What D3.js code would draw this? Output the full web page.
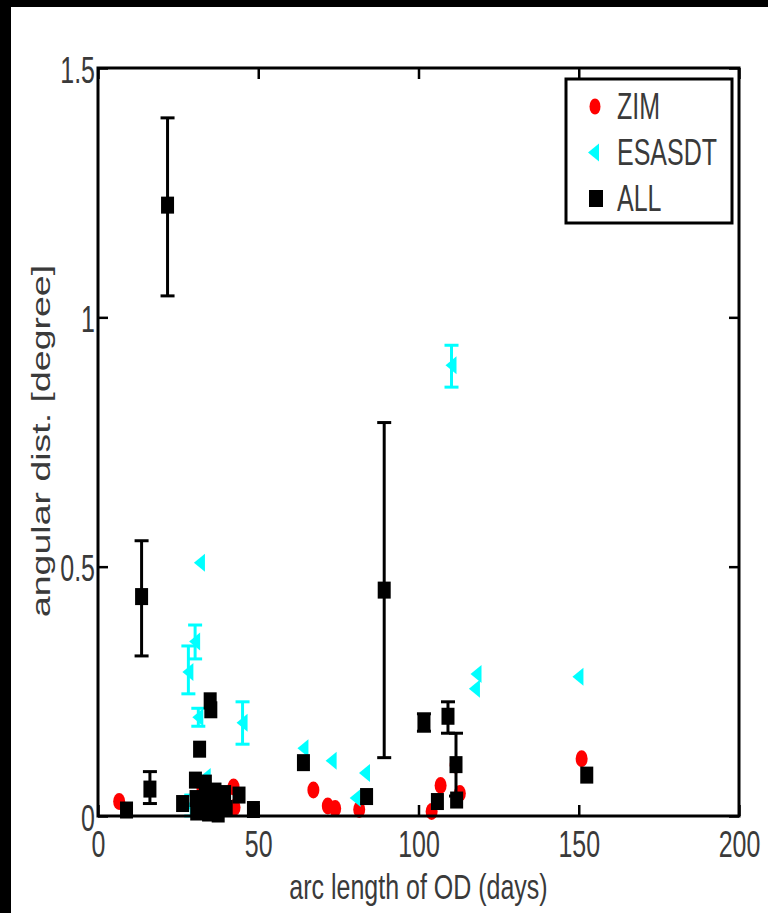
<!DOCTYPE html>
<html>
<head>
<meta charset="utf-8">
<script src="https://cdn.jsdelivr.net/npm/d3@7"></script>
<style>
  html, body { margin: 0; padding: 0; background: #fff; }
  svg { display: block; }
  text { font-family: "Liberation Sans", Arial, sans-serif; font-size: 25px; fill: #3a3a3a; }
</style>
</head>
<body>
<svg id="chart" width="768" height="913"></svg>
<script>
// ZIM (red dots)
const zimX = [6.6, 32.6, 42.3, 42.6, 67.2, 71.7, 74.0, 81.5, 104.1, 106.9, 111.6, 112.9, 150.9];
const zimY = [0.029, 0.054, 0.058, 0.017, 0.052, 0.020, 0.015, 0.013, 0.009, 0.061, 0.102, 0.045, 0.115];

// ESASDT (cyan left triangles), null = no error bar
const esaX  = [28.2, 29.1, 30.3, 31.3, 31.8, 33.6, 45.1, 64.1, 72.9, 80.4, 83.3, 110.3, 117.6, 118.1, 149.9];
const esaY  = [0.289, 0.020, 0.350, 0.198, 0.508, 0.078, 0.187, 0.136, 0.111, 0.036, 0.086, 0.904, 0.255, 0.285, 0.279];
const esaLo = [0.245, 0.000, 0.315, 0.180, null, null, 0.144, null, null, null, null, 0.860, null, null, null];
const esaHi = [0.341, 0.042, 0.383, 0.216, null, null, 0.229, null, null, null, null, 0.944, null, null, null];

// ALL (black squares)
const allX  = [8.9, 13.6, 16.2, 21.7, 26.4, 30.4, 30.6, 30.8, 31.7, 33.5, 34.0, 34.5, 35.0, 35.2, 36.5,
               37.0, 37.5, 39.5, 40.0, 44.0, 48.5, 64.1, 83.8, 89.3, 101.7, 105.9, 109.2, 111.7, 111.9, 152.5];
const allY  = [0.012, 0.440, 0.054, 1.225, 0.025, 0.072, 0.035, 0.008, 0.134, 0.066, 0.035, 0.006, 0.231, 0.213, 0.050,
               0.022, 0.004, 0.045, 0.015, 0.042, 0.013, 0.107, 0.039, 0.453, 0.187, 0.029, 0.200, 0.103, 0.032, 0.082];
const allLo = [null, 0.321, 0.025, 1.043, null, null, null, null, null, null, null, null, null, null, null,
               null, null, null, null, null, null, null, null, 0.117, 0.170, null, 0.166, 0.040, null, null];
const allHi = [null, 0.552, 0.089, 1.400, null, null, null, null, null, null, null, null, null, null, null,
               null, null, null, null, null, null, null, null, 0.789, 0.205, null, 0.229, 0.166, null, null];

const xTicks = [0, 50, 100, 150, 200];
const yTicks = [0, 0.5, 1, 1.5];
const legendNames = ["ZIM", "ESASDT", "ALL"];
const xTitle = "arc length of OD (days)";
const yTitle = "angular dist. [degree]";

const svg = d3.select("#chart");
const pLeft = 98, pRight = 739, pTop = 68, pBottom = 816;
const stretch = 1.5; // text is taller than wide in the picture

const x = d3.scaleLinear().domain([0, 200]).range([pLeft, pRight]);
const y = d3.scaleLinear().domain([0, 1.5]).range([pBottom, pTop]);

// black frame bits on the left and top edge
svg.append("rect").attr("x", 0).attr("y", 0).attr("width", 11).attr("height", 913).attr("fill", "#000");
svg.append("rect").attr("x", 0).attr("y", 0).attr("width", 768).attr("height", 7).attr("fill", "#000");

const plot = svg.append("g");

function errorBars(g, xs, ys, lo, hi, color) {
    const idx = d3.range(xs.length).filter(i => lo[i] !== null);
    const eb = g.append("g").attr("stroke", color).attr("stroke-width", 3);
    eb.selectAll("line.v").data(idx).enter().append("line")
        .attr("x1", i => x(xs[i])).attr("x2", i => x(xs[i]))
        .attr("y1", i => y(lo[i])).attr("y2", i => y(hi[i]));
    eb.selectAll("line.lo").data(idx).enter().append("line")
        .attr("x1", i => x(xs[i]) - 7).attr("x2", i => x(xs[i]) + 7)
        .attr("y1", i => y(lo[i])).attr("y2", i => y(lo[i]));
    eb.selectAll("line.hi").data(idx).enter().append("line")
        .attr("x1", i => x(xs[i]) - 7).attr("x2", i => x(xs[i]) + 7)
        .attr("y1", i => y(hi[i])).attr("y2", i => y(hi[i]));
}

// ZIM
plot.append("g").selectAll("ellipse").data(zimX).enter().append("ellipse")
    .attr("cx", (d) => x(d)).attr("cy", (d, i) => y(zimY[i]))
    .attr("rx", 6).attr("ry", 8.5).attr("fill", "#ff0000");

// ESASDT
errorBars(plot, esaX, esaY, esaLo, esaHi, "#00ffff");
const tri = "M-6,0L5,-9L5,9Z";
plot.append("g").selectAll("path").data(esaX).enter().append("path")
    .attr("transform", (d, i) => `translate(${x(d)},${y(esaY[i])})`)
    .attr("d", tri).attr("fill", "#00ffff");

// ALL
errorBars(plot, allX, allY, allLo, allHi, "#000");
plot.append("g").selectAll("rect").data(allX).enter().append("rect")
    .attr("x", (d) => x(d) - 6.5).attr("y", (d, i) => y(allY[i]) - 8.5)
    .attr("width", 13).attr("height", 17).attr("fill", "#000");

// axes box + inward ticks
const axisStyle = (g) => {
    g.select(".domain").remove();
    g.selectAll(".tick line").attr("stroke", "#000").attr("stroke-width", 2.5);
};
svg.append("g").attr("transform", `translate(0,${pBottom})`)
    .call(d3.axisBottom(x).tickValues(xTicks).tickSize(-11).tickFormat(d3.format("d")))
    .call(axisStyle)
    .call(g => g.selectAll(".tick text")
        .attr("y", null).attr("dy", null).attr("fill", null)
        .attr("transform", `translate(0,41) scale(1,${stretch})`));
svg.append("g").attr("transform", `translate(0,${pTop})`)
    .call(d3.axisTop(x).tickValues(xTicks).tickSize(-11).tickFormat(""))
    .call(axisStyle);
svg.append("g").attr("transform", `translate(${pLeft},0)`)
    .call(d3.axisLeft(y).tickValues(yTicks).tickSize(-10).tickFormat(d3.format("")))
    .call(axisStyle)
    .call(g => g.selectAll(".tick text")
        .attr("x", null).attr("dy", null).attr("fill", null)
        .attr("text-anchor", "end")
        .attr("transform", `translate(-3,14) scale(1,${stretch})`));
svg.append("g").attr("transform", `translate(${pRight},0)`)
    .call(d3.axisRight(y).tickValues(yTicks).tickSize(-10).tickFormat(""))
    .call(axisStyle);
svg.selectAll("g[font-size]").attr("font-size", null).attr("font-family", null);

svg.append("rect")
    .attr("x", pLeft).attr("y", pTop).attr("width", pRight - pLeft).attr("height", pBottom - pTop)
    .attr("fill", "none").attr("stroke", "#000").attr("stroke-width", 3);

// axis titles
svg.append("text")
    .attr("transform", `translate(${(pLeft + pRight) / 2},898.5) scale(1,1.44)`)
    .attr("text-anchor", "middle")
    .text(xTitle);
svg.append("text")
    .attr("transform", `translate(50,441) scale(1,${stretch}) rotate(-90)`)
    .attr("text-anchor", "middle")
    .text(yTitle);

// legend
const legend = svg.append("g");
legend.append("rect")
    .attr("x", 566).attr("y", 79).attr("width", 166).attr("height", 144)
    .attr("fill", "#fff").attr("stroke", "#000").attr("stroke-width", 3);
const rowY = [106.5, 152.5, 198.5];
legend.append("ellipse").attr("cx", 595).attr("cy", rowY[0]).attr("rx", 5.5).attr("ry", 8).attr("fill", "#ff0000");
legend.append("path").attr("transform", `translate(594,${rowY[1]})`).attr("d", tri).attr("fill", "#00ffff");
legend.append("rect").attr("x", 589).attr("y", rowY[2] - 8.5).attr("width", 14).attr("height", 17).attr("fill", "#000");
legend.selectAll("text.lab").data(legendNames).enter().append("text")
    .attr("class", "lab")
    .attr("transform", (d, i) => `translate(617,${rowY[i] + 12.5}) scale(1,${stretch})`)
    .text((d) => d);
</script>
</body>
</html>
